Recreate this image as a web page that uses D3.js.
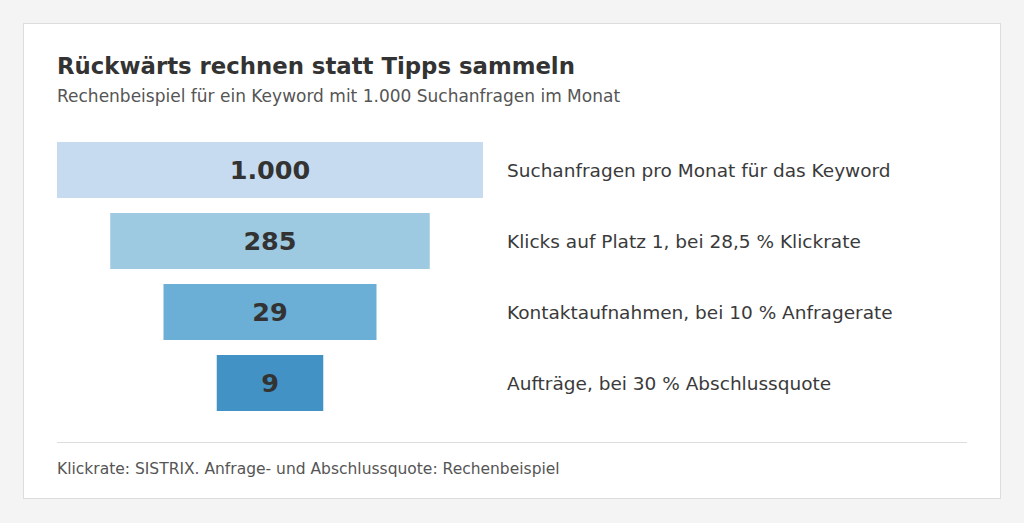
<!DOCTYPE html>
<html>
<head>
<meta charset="utf-8">
<script src="https://cdn.jsdelivr.net/npm/d3@7"></script>
<style>
  body { margin: 0; background: #f4f4f4; font-family: "DejaVu Sans", sans-serif; }
</style>
</head>
<body>
<script>
// funnel steps
var values = [1000, 285, 29, 9];
var valueLabels = ["1.000", "285", "29", "9"];
var stepLabels = [
  "Suchanfragen pro Monat für das Keyword",
  "Klicks auf Platz 1, bei 28,5 % Klickrate",
  "Kontaktaufnahmen, bei 10 % Anfragerate",
  "Aufträge, bei 30 % Abschlussquote"
];
var colors = ["#c6dbef", "#9ecae1", "#6baed6", "#4292c6"];

var svg = d3.select("body").append("svg")
  .attr("width", 1024)
  .attr("height", 523);

// card
svg.append("rect")
  .attr("x", 23.5).attr("y", 23.5)
  .attr("width", 977).attr("height", 475)
  .attr("fill", "#fff")
  .attr("stroke", "#dddddd");

svg.append("text")
  .attr("x", 57).attr("y", 74)
  .attr("font-size", 22.8).attr("font-weight", "bold")
  .attr("fill", "#333")
  .text("Rückwärts rechnen statt Tipps sammeln");

svg.append("text")
  .attr("x", 57).attr("y", 102)
  .attr("font-size", 17)
  .attr("fill", "#555")
  .text("Rechenbeispiel für ein Keyword mit 1.000 Suchanfragen im Monat");

var idx = d3.range(values.length);

var y = d3.scaleBand()
  .domain(idx)
  .range([142, 411])
  .paddingInner(15 / 71)
  .paddingOuter(0);

// funnel width by step, not by value
var w = d3.scaleLinear()
  .domain([0, values.length])
  .range([426, 0]);

var cx = 270;

var rows = svg.selectAll(".step")
  .data(idx)
  .enter().append("g")
  .attr("class", "step");

rows.append("rect")
  .attr("x", function(i){ return cx - w(i) / 2; })
  .attr("y", function(i){ return y(i); })
  .attr("width", function(i){ return w(i); })
  .attr("height", y.bandwidth())
  .style("fill", function(i){ return colors[i]; });

rows.append("text")
  .attr("x", cx)
  .attr("y", function(i){ return y(i) + y.bandwidth() / 2; })
  .attr("dy", "0.36em")
  .attr("text-anchor", "middle")
  .attr("font-size", 25.5).attr("font-weight", "bold")
  .attr("fill", "#333")
  .text(function(i){ return valueLabels[i]; });

rows.append("text")
  .attr("x", 507)
  .attr("y", function(i){ return y(i) + y.bandwidth() / 2; })
  .attr("dy", "0.36em")
  .attr("font-size", 18.5)
  .attr("fill", "#3a3a3a")
  .text(function(i){ return stepLabels[i]; });

svg.append("line")
  .attr("x1", 57).attr("x2", 967)
  .attr("y1", 442.5).attr("y2", 442.5)
  .attr("stroke", "#dddddd");

svg.append("text")
  .attr("x", 57).attr("y", 474)
  .attr("font-size", 15.5)
  .attr("fill", "#555")
  .text("Klickrate: SISTRIX. Anfrage- und Abschlussquote: Rechenbeispiel");
</script>
</body>
</html>
